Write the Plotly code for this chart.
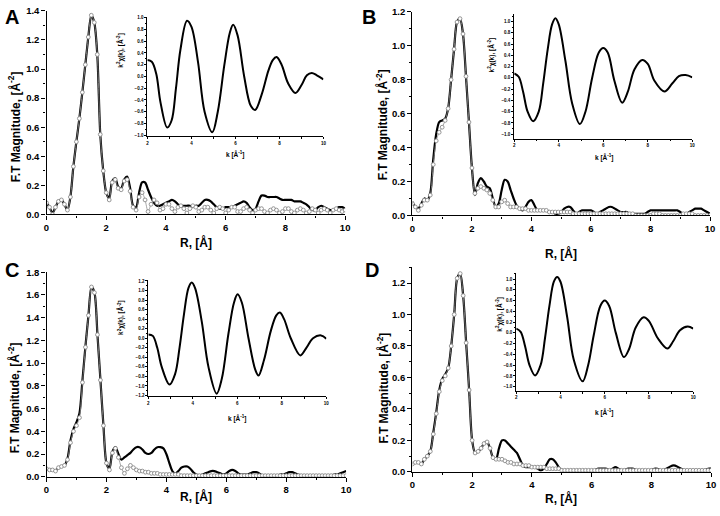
import plotly.graph_objects as go

# ---------------- data ----------------
R = [round(i * 0.1, 1) for i in range(101)]

A_exp = [0.08,0.05,0.01,0.05,0.09,0.10,0.07,0.03,0.12,0.33,
         0.50,0.66,0.84,1.03,1.22,1.37,1.32,1.10,0.55,0.30,
         0.15,0.11,0.23,0.25,0.19,0.18,0.24,0.26,0.18,0.06,
         0.05,0.15,0.22,0.22,0.17,0.12,0.08,0.06,0.06,0.07,
         0.08,0.09,0.10,0.09,0.07,0.06,0.06,0.06,0.06,0.05,
         0.06,0.06,0.08,0.10,0.10,0.09,0.07,0.05,0.04,0.04,
         0.05,0.05,0.05,0.06,0.07,0.08,0.09,0.08,0.05,0.03,
         0.04,0.09,0.13,0.13,0.12,0.12,0.12,0.12,0.11,0.10,
         0.10,0.10,0.10,0.09,0.09,0.09,0.08,0.07,0.05,0.03,
         0.03,0.05,0.06,0.05,0.04,0.03,0.03,0.04,0.05,0.05,
         0.04]
A_fit = [0.08,0.05,0.00,0.05,0.09,0.10,0.07,0.03,0.12,0.33,
         0.50,0.66,0.84,1.03,1.22,1.37,1.32,1.10,0.55,0.30,
         0.15,0.10,0.22,0.24,0.18,0.17,0.23,0.24,0.16,0.05,
         0.03,0.12,0.15,0.10,0.02,0.07,0.10,0.08,0.03,0.04,
         0.07,0.07,0.04,0.02,0.05,0.06,0.04,0.01,0.04,0.06,
         0.05,0.02,0.03,0.05,0.05,0.03,0.01,0.04,0.05,0.04,
         0.01,0.03,0.05,0.05,0.02,0.02,0.04,0.05,0.03,0.01,
         0.03,0.04,0.04,0.02,0.01,0.03,0.04,0.03,0.01,0.02,
         0.04,0.04,0.02,0.01,0.03,0.04,0.03,0.01,0.02,0.04,
         0.03,0.01,0.03,0.04,0.03,0.01,0.03,0.04,0.03,0.02,
         0.03]

B_exp = [0.08,0.05,0.04,0.07,0.10,0.09,0.13,0.33,0.48,0.55,
         0.56,0.57,0.63,0.80,0.98,1.14,1.16,1.07,0.82,0.55,
         0.28,0.12,0.19,0.22,0.20,0.17,0.16,0.10,0.05,0.07,
         0.15,0.21,0.20,0.15,0.10,0.06,0.04,0.03,0.05,0.08,
         0.09,0.06,0.03,0.03,0.03,0.03,0.02,0.02,0.01,0.01,
         0.02,0.04,0.05,0.05,0.03,0.01,0.02,0.03,0.03,0.03,
         0.03,0.02,0.01,0.02,0.03,0.04,0.05,0.05,0.04,0.03,
         0.02,0.02,0.02,0.01,0.01,0.01,0.01,0.01,0.01,0.02,
         0.03,0.03,0.03,0.03,0.03,0.03,0.03,0.03,0.03,0.03,
         0.02,0.01,0.01,0.02,0.03,0.04,0.04,0.04,0.03,0.02,
         0.01]
B_fit = [0.07,0.05,0.03,0.06,0.09,0.09,0.12,0.30,0.44,0.49,
         0.52,0.56,0.63,0.80,0.98,1.14,1.16,1.07,0.82,0.55,
         0.28,0.13,0.16,0.17,0.16,0.15,0.13,0.09,0.05,0.05,
         0.08,0.09,0.07,0.05,0.05,0.05,0.04,0.04,0.04,0.03,
         0.03,0.03,0.03,0.03,0.03,0.03,0.02,0.02,0.02,0.02,
         0.02,0.02,0.02,0.02,0.01,0.01,0.01,0.01,0.01,0.01,
         0.01,0.01,0.01,0.01,0.01,0.01,0.01,0.01,0.01,0.01,
         0.01,0.01,0.01,0.01,0.01,0.00,0.00,0.00,0.00,0.00,
         0.00,0.01,0.01,0.01,0.00,0.00,0.00,0.00,0.00,0.00,
         0.00,0.01,0.01,0.01,0.01,0.00,0.00,0.00,0.00,0.00,
         0.00]

C_exp = [0.07,0.06,0.06,0.05,0.08,0.09,0.10,0.16,0.32,0.42,
         0.48,0.56,0.85,1.15,1.42,1.67,1.62,1.25,0.85,0.45,
         0.12,0.07,0.22,0.26,0.20,0.15,0.17,0.19,0.21,0.24,
         0.26,0.26,0.24,0.21,0.20,0.21,0.24,0.26,0.26,0.25,
         0.20,0.12,0.05,0.03,0.05,0.08,0.09,0.09,0.07,0.04,
         0.02,0.01,0.02,0.03,0.04,0.05,0.05,0.04,0.03,0.02,
         0.03,0.05,0.06,0.05,0.03,0.02,0.02,0.02,0.03,0.04,
         0.04,0.03,0.01,0.01,0.01,0.01,0.01,0.01,0.02,0.02,
         0.03,0.04,0.04,0.03,0.02,0.01,0.01,0.01,0.01,0.01,
         0.01,0.01,0.01,0.01,0.01,0.01,0.02,0.02,0.03,0.04,
         0.05]
C_fit = [0.07,0.06,0.06,0.05,0.08,0.09,0.10,0.15,0.30,0.40,
         0.45,0.52,0.83,1.14,1.42,1.67,1.62,1.25,0.85,0.45,
         0.12,0.06,0.21,0.25,0.17,0.08,0.03,0.07,0.10,0.08,
         0.06,0.05,0.05,0.04,0.04,0.03,0.03,0.03,0.02,0.02,
         0.02,0.02,0.02,0.02,0.02,0.01,0.01,0.01,0.01,0.01,
         0.01,0.01,0.01,0.01,0.01,0.01,0.01,0.01,0.01,0.01,
         0.01,0.01,0.01,0.01,0.01,0.01,0.01,0.01,0.01,0.01,
         0.01,0.01,0.01,0.01,0.01,0.01,0.01,0.01,0.01,0.01,
         0.01,0.01,0.01,0.01,0.01,0.01,0.01,0.01,0.01,0.01,
         0.01,0.01,0.01,0.01,0.01,0.01,0.01,0.01,0.01,0.01,
         0.01]

D_exp = [0.05,0.06,0.06,0.05,0.08,0.10,0.13,0.25,0.38,0.52,
         0.59,0.62,0.66,0.80,1.00,1.23,1.26,1.12,0.82,0.52,
         0.20,0.12,0.13,0.15,0.18,0.19,0.15,0.09,0.08,0.15,
         0.20,0.20,0.18,0.16,0.14,0.12,0.08,0.04,0.03,0.03,
         0.03,0.03,0.02,0.01,0.02,0.05,0.08,0.08,0.06,0.03,
         0.01,0.01,0.01,0.01,0.01,0.01,0.01,0.01,0.01,0.01,
         0.01,0.01,0.02,0.02,0.02,0.02,0.01,0.02,0.03,0.02,
         0.01,0.01,0.02,0.02,0.02,0.01,0.01,0.01,0.01,0.01,
         0.01,0.02,0.02,0.01,0.01,0.02,0.03,0.04,0.04,0.03,
         0.02,0.01,0.01,0.01,0.01,0.01,0.01,0.01,0.01,0.02,
         0.02]
D_fit = [0.05,0.06,0.06,0.05,0.08,0.10,0.13,0.24,0.37,0.51,
         0.58,0.61,0.66,0.80,1.00,1.23,1.26,1.12,0.82,0.52,
         0.20,0.12,0.13,0.15,0.18,0.19,0.15,0.09,0.08,0.08,
         0.08,0.07,0.06,0.06,0.05,0.05,0.05,0.04,0.04,0.04,
         0.03,0.03,0.03,0.03,0.03,0.02,0.02,0.02,0.02,0.02,
         0.01,0.01,0.01,0.01,0.01,0.01,0.01,0.01,0.01,0.01,
         0.01,0.01,0.01,0.01,0.01,0.01,0.01,0.01,0.01,0.01,
         0.01,0.01,0.01,0.01,0.01,0.01,0.01,0.01,0.01,0.01,
         0.01,0.01,0.01,0.01,0.01,0.01,0.01,0.01,0.01,0.01,
         0.01,0.01,0.01,0.01,0.01,0.01,0.01,0.01,0.01,0.01,
         0.01]

# insets: k^2 chi(k)
A_k   = [2.0,2.2,2.4,2.6,2.9,3.1,3.3,3.5,3.8,4.0,4.3,4.6,4.95,5.2,5.5,5.75,5.9,6.1,6.4,6.7,6.9,7.2,7.5,7.7,7.87,8.1,8.4,8.73,9.0,9.25,9.47,9.7,10.0]
A_chi = [0.28,0.25,0.05,-0.45,-0.87,-0.75,-0.2,0.45,0.95,0.85,0.25,-0.6,-0.95,-0.6,0.2,0.75,0.88,0.7,0.0,-0.5,-0.57,-0.3,0.1,0.28,0.33,0.2,-0.12,-0.28,-0.15,0.02,0.06,0.02,-0.05]

B_k   = [2.0,2.2,2.4,2.6,2.85,3.1,3.3,3.5,3.7,3.85,4.0,4.3,4.6,4.95,5.2,5.5,5.8,6.0,6.2,6.5,6.85,7.1,7.4,7.75,8.0,8.3,8.75,9.1,9.4,9.7,10.0]
B_chi = [0.08,0.02,-0.25,-0.6,-0.77,-0.6,-0.1,0.5,0.95,1.06,0.95,0.3,-0.45,-0.82,-0.6,0.0,0.45,0.53,0.45,-0.05,-0.44,-0.25,0.15,0.32,0.25,-0.05,-0.24,-0.1,0.03,0.05,0.01]

C_k   = [2.0,2.2,2.4,2.6,2.95,3.2,3.4,3.6,3.8,3.95,4.1,4.4,4.7,5.07,5.3,5.6,5.85,6.01,6.2,6.5,6.8,6.95,7.2,7.5,7.75,7.91,8.1,8.4,8.83,9.1,9.4,9.76,10.0]
C_chi = [0.08,0.05,-0.2,-0.6,-0.97,-0.75,-0.2,0.5,1.05,1.17,1.05,0.35,-0.6,-1.16,-0.85,0.1,0.75,0.92,0.75,0.0,-0.65,-0.78,-0.45,0.15,0.48,0.54,0.4,0.0,-0.36,-0.2,0.0,0.06,-0.01]

D_k   = [2.0,2.2,2.4,2.6,2.85,3.1,3.3,3.5,3.7,3.85,4.0,4.3,4.6,5.0,5.25,5.5,5.8,6.0,6.2,6.5,6.87,7.1,7.4,7.76,8.0,8.4,8.83,9.1,9.4,9.75,10.0]
D_chi = [0.08,0.02,-0.25,-0.6,-0.79,-0.6,-0.1,0.5,0.95,1.04,0.95,0.3,-0.5,-0.9,-0.6,-0.05,0.5,0.6,0.5,0.0,-0.45,-0.3,0.1,0.29,0.22,-0.1,-0.29,-0.15,0.05,0.12,0.08]

LETTERS = ["A", "B", "C", "D"]
MAIN_X_TICKS = [0, 2, 4, 6, 8, 10]
INSET_X_TICKS = [2, 4, 6, 8, 10]

# ---------------- layout geometry (pixels) ----------------
W, H = 720, 516
FONT = "Liberation Sans, Arial, sans-serif"

def xd(a, b):
    return [a / W, b / W]

def yd(top, bottom):
    return [1 - bottom / H, 1 - top / H]

panels = [
    dict(exp=A_exp, fit=A_fit, k=A_k, chi=A_chi,
         mx=(44, 346), my=(5, 213), yr=[0, 1.4],
         ix=(146, 324), iy=(10.8, 133.2), iyr=[-1.02, 1.02],
         letter=(9, 11), ytitle=(12, 123), xtitle=(195, 242),
         iktitle=(235, 152), iytitle=(118, 45)),
    dict(exp=B_exp, fit=B_fit, k=B_k, chi=B_chi,
         mx=(414, 715), my=(6, 214), yr=[0, 1.2],
         ix=(517, 697), iy=(8.5, 135.6), iyr=[-1.08, 1.13],
         letter=(370, 11), ytitle=(384, 121), xtitle=(564, 253),
         iktitle=(608, 155), iytitle=(494, 50)),
    dict(exp=C_exp, fit=C_fit, k=C_k, chi=C_chi,
         mx=(44, 347), my=(272, 481), yr=[0, 1.8],
         ix=(147, 327), iy=(280, 399), iyr=[-1.22, 1.22],
         letter=(9, 270), ytitle=(12, 400), xtitle=(195, 501),
         iktitle=(237, 421), iytitle=(119, 318)),
    dict(exp=D_exp, fit=D_fit, k=D_k, chi=D_chi,
         mx=(414, 716), my=(267, 476), yr=[0, 1.3],
         ix=(519, 698), iy=(272.4, 393.4), iyr=[-1.08, 1.12],
         letter=(373, 270), ytitle=(384, 390), xtitle=(564, 503),
         iktitle=(608, 415), iytitle=(502, 315)),
]

fig = go.Figure()
layout = dict(width=W, height=H, margin=dict(l=0, r=0, t=0, b=0),
              paper_bgcolor="white", plot_bgcolor="rgba(0,0,0,0)",
              showlegend=False, font=dict(family=FONT, color="black"))
annotations = []

def ann(text, x, y, size, angle=0):
    annotations.append(dict(text=text, x=x / W, y=1 - y / H, xref="paper", yref="paper",
                            showarrow=False, xanchor="center", yanchor="middle",
                            textangle=angle,
                            font=dict(family=FONT, size=size, color="black", weight="bold")))

for i, p in enumerate(panels):
    mi = 2 * i + 1
    ii = 2 * i + 2
    mxa, mya = ("x%d" % mi if mi > 1 else "x"), ("y%d" % mi if mi > 1 else "y")
    ixa, iya = "x%d" % ii, "y%d" % ii
    mxk = "xaxis%d" % mi if mi > 1 else "xaxis"
    myk = "yaxis%d" % mi if mi > 1 else "yaxis"
    ixk, iyk = "xaxis%d" % ii, "yaxis%d" % ii

    # main: experiment (solid) and fit (open circles)
    fig.add_trace(go.Scatter(x=R, y=p["exp"], mode="lines", xaxis=mxa, yaxis=mya,
                             line=dict(color="black", width=2.2, shape="spline", smoothing=0.8)))
    fig.add_trace(go.Scatter(x=R, y=p["fit"], mode="lines+markers", xaxis=mxa, yaxis=mya,
                             line=dict(color="#909090", width=0.8, shape="spline", smoothing=0.8),
                             marker=dict(symbol="circle", size=3.8, color="white",
                                         line=dict(color="#8a8a8a", width=0.9))))
    # inset
    fig.add_trace(go.Scatter(x=p["k"], y=p["chi"], mode="lines", xaxis=ixa, yaxis=iya,
                             line=dict(color="black", width=2, shape="spline", smoothing=1)))

    axis_common = dict(showline=True, linecolor="black", showgrid=False, zeroline=False,
                       ticks="outside", tickcolor="black", mirror=False)
    layout[mxk] = dict(axis_common, domain=xd(*p["mx"]), range=[0, 10], anchor=mya,
                       tickvals=MAIN_X_TICKS, linewidth=1.4, ticklen=4, tickwidth=1.2,
                       ticklabeloverflow="allow",
                       minor=dict(dtick=1, tick0=0, ticks="outside", ticklen=2, tickcolor="black"),
                       tickfont=dict(family=FONT, size=9.5, color="black", weight="bold"))
    layout[myk] = dict(axis_common, domain=yd(*p["my"]), range=p["yr"], anchor=mxa,
                       dtick=0.2, tick0=0, tickformat=".1f", linewidth=1.4, ticklen=4, tickwidth=1.2,
                       minor=dict(dtick=0.1, tick0=0, ticks="outside", ticklen=2, tickcolor="black"),
                       tickfont=dict(family=FONT, size=9.5, color="black", weight="bold"))
    layout[ixk] = dict(axis_common, domain=xd(*p["ix"]), range=[2, 10], anchor=iya,
                       tickvals=INSET_X_TICKS, linewidth=1, ticklen=2, tickwidth=0.8,
                       ticklabeloverflow="allow",
                       minor=dict(dtick=1, tick0=0, ticks="outside", ticklen=1.5, tickcolor="black"),
                       tickfont=dict(family=FONT, size=4.5, color="black", weight="bold"))
    layout[iyk] = dict(axis_common, domain=yd(*p["iy"]), range=p["iyr"], anchor=ixa,
                       dtick=0.2, tick0=0, tickformat=".1f", linewidth=1, ticklen=2, tickwidth=0.8,
                       minor=dict(dtick=0.1, tick0=0, ticks="outside", ticklen=1.5, tickcolor="black"),
                       tickfont=dict(family=FONT, size=4.5, color="black", weight="bold"))

    ann(LETTERS[i], p["letter"][0], p["letter"][1], 20)
    ann("F.T Magnitude, [Å<sup>-2</sup>]", p["ytitle"][0], p["ytitle"][1], 12, -90)
    ann("R, [Å]", p["xtitle"][0], p["xtitle"][1], 12)
    ann("k [Å<sup>-1</sup>]", p["iktitle"][0], p["iktitle"][1], 6.5)
    ann("k<sup>2</sup>χ(k), [Å<sup>-2</sup>]", p["iytitle"][0], p["iytitle"][1], 6.5, -90)

layout["annotations"] = annotations
fig.update_layout(**layout)
fig.write_html("out.html", config={"displayModeBar": False},
               post_script="document.body.style.margin='0';document.body.style.padding='0';")
